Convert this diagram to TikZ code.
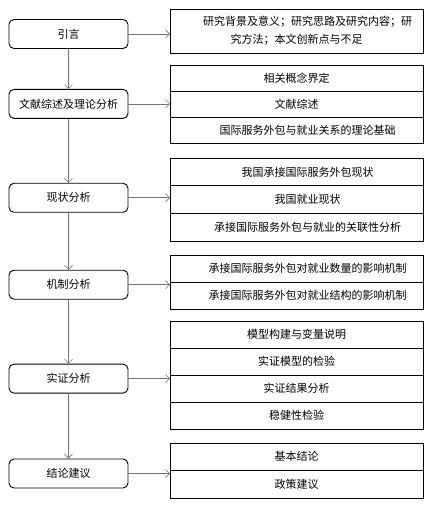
\documentclass[tikz,border=0pt]{standalone}
\usepackage{fontspec}
\newfontfamily\cjk{Noto Sans CJK SC}
\usepackage{tikz}
\usetikzlibrary{positioning, arrows.meta}

\tikzset{
    stage/.style={draw, rounded corners=5pt, line width=0.9pt, minimum width=119pt, minimum height=29pt},
    rowbox/.style={draw, line width=0.9pt, minimum width=253pt, minimum height=#1, inner sep=0pt, outer sep=0pt},
    rowbox/.default=27pt,
    link/.style={draw=black!55, line width=0.6pt, -{Straight Barb[length=4pt,width=8pt]}}
}
\newcommand{\ind}{\hspace*{2em}}

\begin{document}
\begin{tikzpicture}[font=\cjk\fontsize{11}{13}\selectfont]
            \useasboundingbox (0,0) rectangle (434pt,-510pt);

            \node[stage] (A) at (68.5pt,-34pt) {引言};
            \node[stage] (B) [below=40pt of A] {文献综述及理论分析};
            \node[stage] (C) [below=64pt of B] {现状分析};
            \node[stage] (D) [below=57pt of C] {机制分析};
            \node[stage] (E) [below=64pt of D] {实证分析};
            \node[stage] (F) [below=65pt of E] {结论建议};

            % right column
            \node[rowbox=44pt, align=center, font=\cjk\fontsize{11}{18}\selectfont] (A1) at (296.5pt,-31pt)
                {\ind 研究背景及意义；研究思路及研究内容；研\\究方法；本文创新点与不足};

            \node[rowbox=26pt, anchor=north] (B1) at (296.5pt,-65pt) {相关概念界定};
            \node[rowbox=26pt] (B2) [below=0pt of B1] {文献综述};
            \node[rowbox=26pt] (B3) [below=0pt of B2] {\ind 国际服务外包与就业关系的理论基础};

            \node[rowbox=27.7pt, anchor=north] (C1) at (296.5pt,-158pt) {\ind 我国承接国际服务外包现状};
            \node[rowbox=27.7pt] (C2) [below=0pt of C1] {\ind 我国就业现状};
            \node[rowbox=27.7pt] (C3) [below=0pt of C2] {\ind 承接国际服务外包与就业的关联性分析};

            \node[rowbox, anchor=north] (D1) at (296.5pt,-255pt) {\ind 承接国际服务外包对就业数量的影响机制};
            \node[rowbox] (D2) [below=0pt of D1] {\ind 承接国际服务外包对就业结构的影响机制};

            \node[rowbox, anchor=north] (E1) at (296.5pt,-321pt) {模型构建与变量说明};
            \node[rowbox] (E2) [below=0pt of E1] {实证模型的检验};
            \node[rowbox] (E3) [below=0pt of E2] {实证结果分析};
            \node[rowbox] (E4) [below=0pt of E3] {稳健性检验};

            \node[rowbox=27.5pt, anchor=north] (F1) at (296.5pt,-443pt) {基本结论};
            \node[rowbox=27.5pt] (F2) [below=0pt of F1] {政策建议};

            \path[link]
            (A) edge (B)
            (B) edge (C)
            (C) edge (D)
            (D) edge (E)
            (E) edge (F);

            \draw[link] (A.east) -- (A.east -| A1.west);
            \draw[link] (B.east) -- (B.east -| B1.west);
            \draw[link] (C.east) -- (C.east -| C1.west);
            \draw[link] (D.east) -- (D.east -| D1.west);
            \draw[link] (E.east) -- (E.east -| E1.west);
            \draw[link] (F.east) -- (F.east -| F1.west);

\end{tikzpicture}
\end{document}
